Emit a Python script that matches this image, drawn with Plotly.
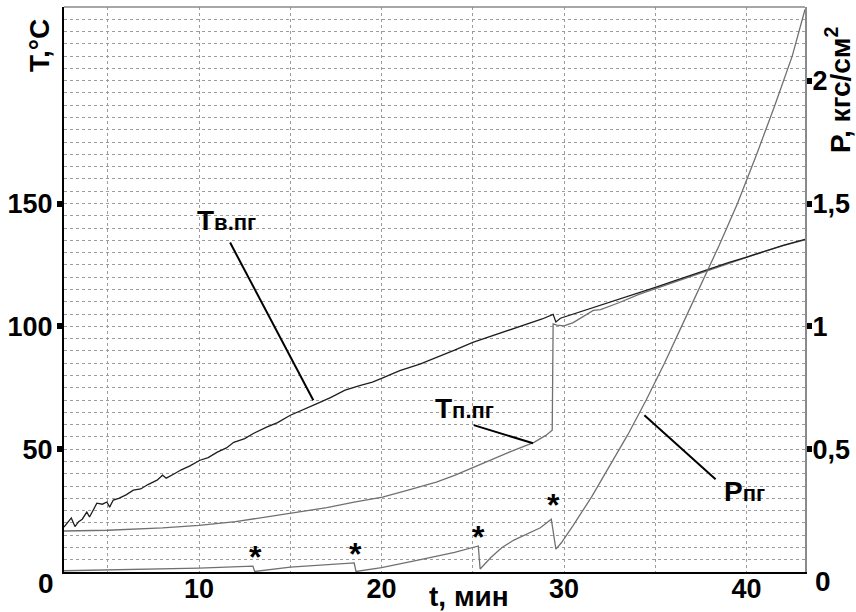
import plotly.graph_objects as go

# ---- data ----
# T_v.pg (black, noisy) : time, min / temperature, °C
t_v = [2.6, 2.8, 3.0, 3.2, 3.4, 3.6, 3.85, 4.0, 4.2, 4.4, 4.7, 4.95, 5.1, 5.3, 5.6, 6.0, 6.4, 6.8, 7.2, 7.7, 8.0, 8.2,
       8.6, 9.0, 9.5, 10.05, 10.5, 11.0, 11.5, 11.9, 12.5, 13.0, 13.7, 14.3, 15.0, 15.6, 16.4, 17.2, 18.0, 18.8,
       19.5, 20.0, 21.0, 22.1, 23.0, 24.0, 25.0, 26.0, 27.0, 28.0, 28.8, 29.4, 29.55, 29.8, 30.5, 31.6, 32.0,
       33.0, 34.0, 35.0, 36.0, 37.0, 37.8, 39.0, 40.0, 41.0, 42.0, 43.2]
T_v = [18.3, 20.0, 22.0, 18.5, 20.5, 21.5, 24.4, 22.4, 25.5, 28.0, 27.6, 28.5, 26.4, 29.3, 30.0, 31.4, 33.3, 33.8, 35.6, 37.4, 39.4, 38.2,
       39.8, 41.5, 43.2, 45.5, 46.6, 48.8, 50.5, 52.8, 54.3, 56.5, 59.0, 60.8, 63.8, 65.6, 68.3, 71.0, 74.0, 75.9,
       77.3, 78.8, 82.0, 84.6, 87.2, 90.3, 93.5, 96.0, 98.3, 101.0, 103.0, 104.9, 101.8, 103.3, 105.0, 107.7, 108.4,
       110.8, 113.4, 115.9, 118.4, 120.9, 123.2, 125.9, 128.2, 130.6, 133.0, 135.4]

# T_p.pg (grey)
t_p = [2.6, 5.0, 8.0, 10.0, 12.0, 13.5, 15.5, 17.0, 18.5, 20.05, 21.5, 23.0, 24.0, 25.05, 26.0, 27.0, 28.35, 29.0, 29.35,
       29.4, 29.6, 30.0, 30.5, 31.0, 31.6, 32.0, 33.0, 34.1, 35.0, 36.0, 37.0, 38.0, 39.0, 40.0, 41.0, 42.0, 43.2]
T_p = [16.7, 17.0, 18.0, 19.0, 20.5, 22.3, 24.4, 26.2, 28.4, 30.5, 33.4, 36.6, 39.3, 42.7, 45.6, 48.8, 52.8, 55.6, 57.7,
       101.0, 100.5, 100.2, 101.5, 103.8, 106.5, 106.8, 109.6, 113.0, 115.4, 117.9, 120.4, 123.0, 125.7, 128.1, 130.5, 132.9, 135.2]

# P_pg (grey, right axis) : pressure, kgf/cm^2
t_P = [2.6, 5.0, 8.2, 10.0, 12.95, 13.05, 15.0, 18.5, 18.6, 20.0, 22.0, 24.0, 25.3, 25.4, 26.0, 26.6, 27.25, 28.0,
       28.7, 29.3, 29.55, 29.84, 30.5, 31.5, 32.5, 33.5, 34.5, 35.5, 36.5, 37.5, 38.5, 39.5, 40.5, 41.5, 42.5, 43.2]
P = [0.005, 0.008, 0.012, 0.016, 0.024, 0.002, 0.020, 0.037, 0.002, 0.018, 0.048, 0.080, 0.106, 0.012, 0.060, 0.100,
     0.130, 0.155, 0.180, 0.215, 0.093, 0.118, 0.190, 0.305, 0.430, 0.560, 0.700, 0.850, 1.010, 1.170, 1.330, 1.500,
     1.690, 1.890, 2.100, 2.290]

y_ticks = [50, 100, 150]
p_ticks = [0.5, 1, 1.5, 2]
p_ticktext = ["0,5", "1", "1,5", "2"]
x_ticks = [10, 20, 30, 40]

FONT = "Liberation Sans, Arial, sans-serif"
GRID = "#9c9c9c"

fig = go.Figure()
fig.add_trace(go.Scatter(x=t_p, y=T_p, mode="lines", line=dict(color="#707070", width=1.3), showlegend=False))
fig.add_trace(go.Scatter(x=t_v, y=T_v, mode="lines", line=dict(color="#1e1e1e", width=1.3), showlegend=False))
fig.add_trace(go.Scatter(x=t_P, y=P, mode="lines", line=dict(color="#707070", width=1.3), yaxis="y2", showlegend=False))

tickfont = dict(family=FONT, size=27, color="black", weight="bold")

fig.update_layout(
    width=856, height=612,
    margin=dict(l=64, r=51, t=7, b=40, autoexpand=False),
    paper_bgcolor="white", plot_bgcolor="white",
    xaxis=dict(range=[2.6, 43.2], tickvals=x_ticks, ticks="", showline=True, linecolor="black", linewidth=2,
               showgrid=True, gridcolor=GRID, griddash="dot", gridwidth=1, tickfont=tickfont,
               minor=dict(tick0=0, dtick=5, showgrid=True, gridcolor=GRID, griddash="dot", gridwidth=1, ticks=""),
               zeroline=False, ticklabelstandoff=-8, automargin=False),
    yaxis=dict(range=[0, 230], tickvals=y_ticks, ticks="outside", ticklen=5, tickwidth=6, tickcolor="black",
               showline=True, linecolor="black", linewidth=2, showgrid=True, gridcolor=GRID, griddash="dot",
               minor=dict(tick0=0, dtick=5, showgrid=True, gridcolor=GRID, griddash="dot", gridwidth=1),
               tickfont=tickfont, zeroline=False, ticklabelstandoff=-1, automargin=False),
    yaxis2=dict(range=[0, 2.30], overlaying="y", side="right", tickvals=p_ticks, ticktext=p_ticktext,
                ticks="outside", ticklen=5, tickwidth=6, tickcolor="black", showline=True, linecolor="#8a8a8a",
                linewidth=2, showgrid=False, tickfont=tickfont, zeroline=False, ticklabelstandoff=-5,
                automargin=False),
)

# top frame line
fig.add_shape(type="line", xref="paper", yref="paper", x0=0, x1=1, y0=1, y1=1, line=dict(color="#8a8a8a", width=1.5))

ann_font = dict(family=FONT, size=28, color="black", weight="bold")
# zero labels (offset below the axis as in the reference)
fig.add_annotation(text="0", xref="paper", yref="y", x=0, y=0, xanchor="right", yanchor="middle",
                   xshift=-8, yshift=-11, showarrow=False, font=ann_font)
fig.add_annotation(text="0", xref="paper", yref="y", x=1, y=0, xanchor="left", yanchor="middle",
                   xshift=8, yshift=-9, showarrow=False, font=ann_font)
# axis titles
fig.add_annotation(text="T,°C", xref="paper", yref="paper", x=0, y=1, xanchor="center", yanchor="middle",
                   xshift=-25, yshift=-39, textangle=-90, showarrow=False, font=ann_font)
fig.add_annotation(text="P, кгс/см<sup>2</sup>", xref="paper", yref="paper", x=1, y=1, xanchor="center",
                   yanchor="middle", xshift=33, yshift=-83, textangle=-90, showarrow=False, font=ann_font)
fig.add_annotation(text="t, мин", xref="x", yref="paper", x=24.8, y=0, xanchor="center", yanchor="middle",
                   yshift=-24, showarrow=False, font=ann_font)

# curve labels
small = "font-size:22px"
fig.add_annotation(text=f"Т<span style='{small}'>в.пг</span>", x=11.5, y=143.1, xref="x", yref="y",
                   showarrow=False, font=ann_font)
fig.add_annotation(text=f"Т<span style='{small}'>п.пг</span>", x=24.55, y=66.7, xref="x", yref="y",
                   showarrow=False, font=ann_font)
fig.add_annotation(text=f"Р<span style='{small}'>пг</span>", x=39.9, y=32.9, xref="x", yref="y",
                   showarrow=False, font=ann_font)

# leader lines
leaders = [((11.7, 134.1), (16.26, 69.9)), ((25.05, 59.8), (28.3, 52.4)), ((34.4, 63.8), (38.3, 37.8))]
for (xa, ya), (xb, yb) in leaders:
    fig.add_shape(type="line", xref="x", yref="y", x0=xa, y0=ya, x1=xb, y1=yb, line=dict(color="black", width=2))

# asterisks marking pressure drops
stars_t = [13.08, 18.57, 25.33, 29.4]
stars_T = [8.5, 9.8, 16.7, 29.7]
for xs, ys in zip(stars_t, stars_T):
    fig.add_annotation(text="*", x=xs, y=ys, xref="x", yref="y", showarrow=False,
                       font=dict(family=FONT, size=32, color="black", weight="bold"), yshift=-6)

fig.write_html("out.html", config={"displayModeBar": False},
               post_script="document.body.style.margin='0';document.body.style.overflow='hidden';")
